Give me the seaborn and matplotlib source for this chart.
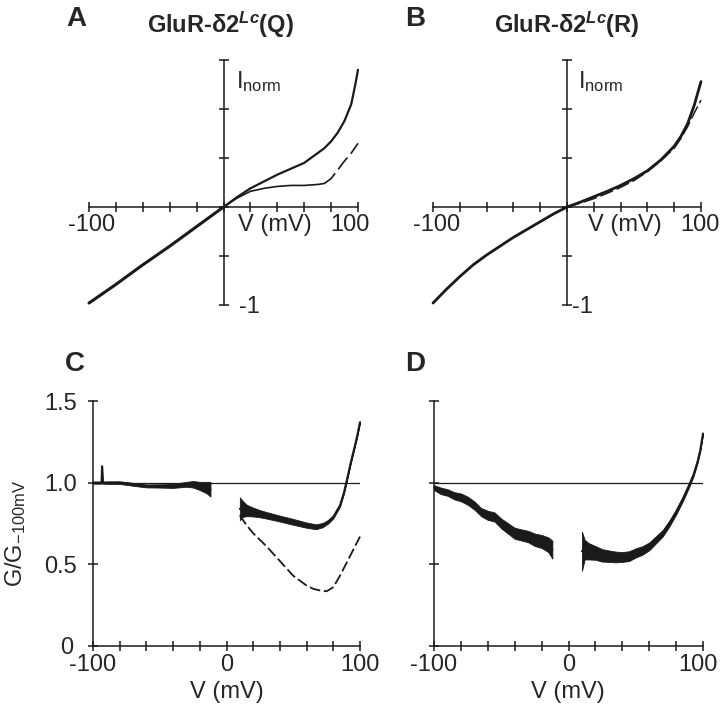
import matplotlib
matplotlib.use("Agg")
import matplotlib.pyplot as plt
import matplotlib.transforms as mtransforms
import numpy as np
import pandas as pd
import seaborn as sns

# ---------------- data ----------------
# Panel A : GluR-d2Lc(Q) normalised I-V
a_v_neg = [-100, -80, -60, -40, -20, 0]
a_i_neg = [-0.98, -0.79, -0.59, -0.40, -0.20, 0.0]
a_v_up = [0, 10, 20, 30, 40, 50, 60, 70, 75, 80, 85, 90, 95, 98, 100]
a_i_up = [0, 0.10, 0.19, 0.26, 0.33, 0.39, 0.45, 0.55, 0.60, 0.67, 0.76, 0.88, 1.05, 1.25, 1.40]
a_v_low = [0, 10, 20, 30, 40, 50, 60, 70, 75, 80, 85, 90, 95, 100]
a_i_low = [0, 0.09, 0.16, 0.19, 0.21, 0.22, 0.22, 0.23, 0.24, 0.29, 0.38, 0.47, 0.55, 0.65]

# Panel B : GluR-d2Lc(R) normalised I-V
b_v = [-100, -90, -80, -70, -60, -50, -40, -30, -20, -10, 0, 10, 20, 30, 40, 50, 60, 70, 80, 85, 90, 95, 100]
b_i = [-0.98, -0.84, -0.71, -0.59, -0.49, -0.40, -0.31, -0.23, -0.15, -0.07, 0, 0.05, 0.105, 0.16, 0.22,
       0.29, 0.37, 0.48, 0.62, 0.72, 0.85, 1.04, 1.28]
b_v2 = [0, 10, 20, 30, 40, 50, 60, 70, 80, 85, 90, 95, 100]
b_i2 = [0, 0.04, 0.085, 0.14, 0.20, 0.27, 0.36, 0.47, 0.60, 0.70, 0.82, 0.96, 1.09]

# Panel C : conductance ratio (Q)
c_v_neg = [-100, -96, -93.6, -93.2, -92.8, -90, -80, -70, -60, -50, -40, -30, -25, -20, -15, -12]
c_g_neg = [1.0, 1.0, 1.0, 1.10, 1.0, 1.0, 1.0, 0.99, 0.98, 0.98, 0.98, 0.99, 0.99, 0.98, 0.97, 0.96]
c_hw_neg = [0.006, 0.006, 0.006, 0.006, 0.006, 0.007, 0.008, 0.009, 0.009, 0.01, 0.012, 0.015, 0.02, 0.025,
            0.035, 0.045]
c_v_pos = [10, 12, 15, 20, 25, 30, 40, 50, 60, 67, 72, 76, 80, 85, 88, 90, 93, 96, 98, 100]
c_g_pos = [0.84, 0.84, 0.83, 0.82, 0.81, 0.80, 0.78, 0.76, 0.74, 0.73, 0.74, 0.76, 0.79, 0.86, 0.94, 1.01,
           1.12, 1.22, 1.29, 1.37]
c_hw_pos = [0.07, 0.05, 0.035, 0.027, 0.022, 0.02, 0.018, 0.018, 0.016, 0.015, 0.013, 0.011, 0.009, 0.007,
            0.006, 0.005, 0.004, 0.004, 0.004, 0.004]
c_v_dash = [10, 15, 20, 25, 30, 40, 50, 60, 65, 70, 75, 80, 85, 90, 95, 100]
c_g_dash = [0.80, 0.74, 0.69, 0.65, 0.61, 0.52, 0.43, 0.37, 0.35, 0.34, 0.335, 0.36, 0.43, 0.51, 0.59, 0.67]

# Panel D : conductance ratio (R)
d_v_neg = [-100, -95, -90, -85, -80, -75, -70, -65, -60, -55, -50, -45, -40, -35, -30, -25, -20, -15, -12]
d_g_neg = [0.97, 0.95, 0.94, 0.92, 0.91, 0.89, 0.86, 0.82, 0.80, 0.79, 0.75, 0.72, 0.69, 0.68, 0.67, 0.65,
           0.64, 0.62, 0.59]
d_hw_neg = [0.015, 0.02, 0.02, 0.022, 0.024, 0.025, 0.025, 0.025, 0.028, 0.028, 0.03, 0.032, 0.034, 0.034,
            0.035, 0.038, 0.04, 0.045, 0.055]
d_v_pos = [10, 12, 15, 20, 25, 30, 35, 40, 45, 50, 55, 60, 65, 70, 75, 80, 85, 90, 93, 96, 98, 100]
d_g_pos = [0.58, 0.59, 0.58, 0.57, 0.555, 0.55, 0.545, 0.545, 0.55, 0.57, 0.585, 0.61, 0.65, 0.69, 0.75,
           0.82, 0.90, 0.99, 1.05, 1.13, 1.20, 1.30]
d_hw_pos = [0.12, 0.06, 0.05, 0.042, 0.038, 0.035, 0.033, 0.03, 0.03, 0.028, 0.026, 0.024, 0.022, 0.02,
            0.018, 0.016, 0.014, 0.012, 0.01, 0.008, 0.006, 0.006]

x_ticks = list(range(-100, 101, 20))
iv_yticks = [-1, -0.5, 0, 0.5, 1, 1.5]
g_yticks = [0, 0.5, 1.0, 1.5]
g_yticklabels = ["0", "0.5", "1.0", "1.5"]

# ---------------- style ----------------
sns.set_theme(style="white")
plt.rcParams["font.family"] = ["Liberation Sans", "DejaVu Sans"]
plt.rcParams["mathtext.fontset"] = "custom"
plt.rcParams["mathtext.rm"] = "Liberation Sans"
plt.rcParams["mathtext.it"] = "Liberation Sans:italic:bold"
plt.rcParams["mathtext.bf"] = "Liberation Sans:bold"

W, H = 720, 716
fig = plt.figure(figsize=(W / 100, H / 100), dpi=100)


def fx(px):
    return px / W


def fy(py):
    return 1 - py / H


def add_axes(x0, x1, ytop, ybot):
    return fig.add_axes([fx(x0), fy(ybot), (x1 - x0) / W, (ybot - ytop) / H])


LW_AX = 1.1
LW_TR = 1.6


def style_iv(ax):
    ax.set_xlim(-100, 100)
    ax.set_ylim(-1, 1.5)
    for s in ["top", "right"]:
        ax.spines[s].set_visible(False)
    ax.spines["left"].set_position(("data", 0))
    ax.spines["bottom"].set_position(("data", 0))
    for s in ["left", "bottom"]:
        ax.spines[s].set_color("k")
        ax.spines[s].set_linewidth(LW_AX)
    ax.set_xticks(x_ticks)
    ax.set_xticklabels([])
    ax.set_yticks(iv_yticks)
    ax.set_yticklabels([])
    ax.tick_params(direction="inout", length=7, width=LW_AX, color="k", bottom=True, left=True)
    ax.set_xlabel("")
    ax.set_ylabel("")
    ax.patch.set_alpha(0)


def style_g(ax, ylabels):
    ax.set_xlim(-100, 100)
    ax.set_ylim(0, 1.5)
    for s in ["top", "right"]:
        ax.spines[s].set_visible(False)
    for s in ["left", "bottom"]:
        ax.spines[s].set_color("k")
        ax.spines[s].set_linewidth(LW_AX)
    ax.set_xticks(x_ticks)
    ax.set_xticklabels(["-100", "", "", "", "", "0", "", "", "", "", "100"], fontsize=17)
    ax.set_yticks(g_yticks)
    ax.set_yticklabels(g_yticklabels if ylabels else [], fontsize=17)
    ax.tick_params(direction="inout", length=7, width=LW_AX, color="k", bottom=True, left=True)
    ax.tick_params(axis="x", pad=2)
    ax.tick_params(axis="y", pad=8)
    ax.set_xlabel("")
    ax.set_ylabel("")
    ax.axhline(1.0, color="k", lw=0.9, zorder=1)


def trace(ax, v, y, lw=LW_TR, **kw):
    sns.lineplot(x=v, y=y, ax=ax, color="k", linewidth=lw, estimator=None, sort=False,
                 clip_on=False, **kw)


def band(ax, v, g, hw):
    v = np.asarray(v, float)
    g = np.asarray(g, float)
    hw = np.asarray(hw, float)
    ax.fill_between(v, g - hw, g + hw, color="k", lw=0.6, zorder=3)
    trace(ax, v, g, lw=1.5)


# ---------------- Panel A ----------------
axA = add_axes(89, 358, 60, 305)
trace(axA, a_v_neg, a_i_neg, lw=2.2)
trace(axA, a_v_up, a_i_up)
trace(axA, a_v_low[:9], a_i_low[:9], lw=1.2)
trace(axA, a_v_low[8:], a_i_low[8:], lw=1.2, linestyle=(0, (9, 3)))
style_iv(axA)

# ---------------- Panel B ----------------
axB = add_axes(433, 701, 60, 305)
trace(axB, b_v, b_i, lw=2.0)
trace(axB, b_v2, b_i2, lw=1.1, linestyle=(0, (9, 2.5)))
style_iv(axB)

# ---------------- Panel C ----------------
axC = add_axes(93, 360, 401, 646)
band(axC, c_v_neg, c_g_neg, c_hw_neg)
band(axC, c_v_pos, c_g_pos, c_hw_pos)
trace(axC, c_v_dash, c_g_dash, lw=1.3, linestyle=(0, (6, 2)))
style_g(axC, True)
lab0 = axC.get_yticklabels()[0]
lab0.set_transform(lab0.get_transform() +
                   mtransforms.ScaledTranslation(-4 / 100, 0, fig.dpi_scale_trans))

# ---------------- Panel D ----------------
axD = add_axes(434, 703, 401, 646)
band(axD, d_v_neg, d_g_neg, d_hw_neg)
band(axD, d_v_pos, d_g_pos, d_hw_pos)
style_g(axD, False)
lab100 = axD.get_xticklabels()[-1]
lab100.set_transform(lab100.get_transform() +
                     mtransforms.ScaledTranslation(-5 / 100, 0, fig.dpi_scale_trans))

# ---------------- texts ----------------
TS = 17
# panel letters
for lab, x, y in [("A", 66, 26), ("B", 405, 26), ("C", 65, 371), ("D", 405, 371)]:
    fig.text(fx(x), fy(y), lab, fontsize=20, fontweight="bold", ha="left", va="baseline")
# titles
fig.text(fx(220), fy(33), r"GluR-δ2$^{\mathit{Lc}}$(Q)", fontsize=17, fontweight="bold",
         ha="center", va="baseline")
fig.text(fx(567), fy(33), r"GluR-δ2$^{\mathit{Lc}}$(R)", fontsize=17, fontweight="bold",
         ha="center", va="baseline")

# I-V axis annotations
for xm100, xv, x100, xi, xm1 in [(92, 238, 330, 236, 239), (437, 588, 680, 578, 572)]:
    fig.text(fx(xm100), fy(225), "-100", fontsize=TS, ha="center", va="center")
    fig.text(fx(xv), fy(225), "V (mV)", fontsize=TS, ha="left", va="center")
    fig.text(fx(x100), fy(225), "100", fontsize=TS, ha="left", va="center")
    fig.text(fx(xi), fy(88), r"I$_{\mathrm{norm}}$", fontsize=TS, ha="left", va="baseline")
    fig.text(fx(xm1), fy(307), "-1", fontsize=TS, ha="left", va="center")

# conductance axis labels
fig.text(fx(227), fy(692), "V (mV)", fontsize=TS, ha="center", va="center")
fig.text(fx(568), fy(692), "V (mV)", fontsize=TS, ha="center", va="center")
fig.text(fx(16), fy(533), r"G/G$_{\mathrm{-100mV}}$", fontsize=17, rotation=90, ha="center", va="center")

fig.savefig("out.png", dpi=100)
